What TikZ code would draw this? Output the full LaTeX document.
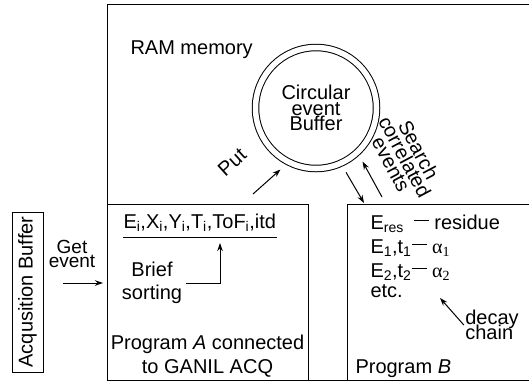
\documentclass[tikz,border=0pt]{standalone}
\usepackage{fontspec}
\setmainfont{Liberation Sans}
\newfontfamily\greekfont{Liberation Serif}
\usetikzlibrary{arrows.meta,positioning}

\newcommand{\linkdash}{\rule[8pt]{15pt}{1pt}}

\begin{document}
\begin{tikzpicture}[x=1pt,y=-1pt,line width=1pt,>={Stealth[length=8pt,width=5.5pt]},
    font={\fontsize{20}{24}\selectfont}]

  \tikzstyle{box}=[draw,rectangle,anchor=north west,inner sep=0pt]
  \tikzstyle{tight}=[align=center,inner sep=1pt,
                     font={\fontsize{20}{15.5}\selectfont\lineskiplimit=-20pt}]
  \tikzstyle{ring}=[circle,draw,double,double distance=5.5pt,
                    minimum size=121pt,outer sep=10.5pt]

  \useasboundingbox (0,0) rectangle (529,381);
  \clip (0,0) rectangle (529,381);

  % memory and the two programs
  \node [box,minimum width=440pt,minimum height=376pt] (ram)   at (107,4)   {};
  \node [box,minimum width=201pt,minimum height=176pt] (progA) at (107,204) {};
  \node [box,minimum width=200pt,minimum height=176pt] (progB) at (347,204) {};
  \node [anchor=base west,inner sep=0pt] (ramlbl) at (130,54) {RAM memory};

  \node [ring,tight] (buf) at (316,108) {Circular\\event\\Buffer};

  % acquisition side
  \node [draw,rotate=90,minimum width=160pt,minimum height=31pt,inner sep=0pt]
        (acq) at (27.5,292) {Acqusition Buffer};
  \node [tight,font={\fontsize{19}{14.5}\selectfont\lineskiplimit=-20pt}]
        (get) at (72,254) {Get\\event};
  \coordinate (getfrom) at (63,283);
  \draw [->,shorten >=4pt] (getfrom) -- (getfrom -| progA.west);

  % program A
  \node [anchor=base west,inner sep=0pt,text depth=9pt] (ev) at (123,228)
        {E\textsubscript{i},X\textsubscript{i},Y\textsubscript{i},T\textsubscript{i},ToF\textsubscript{i},itd};
  \draw (ev.south west) -- (ev.south east);
  \node [align=center,font={\fontsize{20}{23}\selectfont}] (sort) at (152,283) {Brief\\sorting};
  \coordinate (sorttip) at (220,243);
  \draw [->] (sort.east) -| (sorttip);
  \node [align=center] (progAlbl) at (207.5,356) {Program \textit{A} connected\\to GANIL ACQ};

  % program B
  \node [anchor=north west,align=left,inner sep=0pt] (chain) at (370,214.4)
        {E\textsubscript{res}\hspace{10pt}\linkdash\ residue\\
         E\textsubscript{1},t\textsubscript{1}\linkdash\ {\greekfont α\textsubscript{1}}\\
         E\textsubscript{2},t\textsubscript{2}\linkdash\ {\greekfont α\textsubscript{2}}\\[-4pt]
         etc.};
  \node [tight,align=left] (decay) at (492,325) {decay\\chain};
  \coordinate (etcpt) at (440,298);
  \draw [->] (decay.west) -- (etcpt);
  \node [anchor=base west,inner sep=0pt] (progBlbl) at (355,373) {Program \textit{B}};

  % transfers between the programs and the buffer
  \coordinate (putfrom) at (253,194);
  \draw [->] (putfrom) -- (buf.240);
  \node [rotate=42] (put) at (232,162) {Put};
  \coordinate (searchto)   at (364,203);
  \coordinate (searchfrom) at (382,197);
  \draw [->] (buf.295) -- (searchto);
  \draw [->] (searchfrom) -- (buf.311);
  \node [tight,rotate=-62] (search) at (405,157) {Search\\correlated\\events};
\end{tikzpicture}
\end{document}
